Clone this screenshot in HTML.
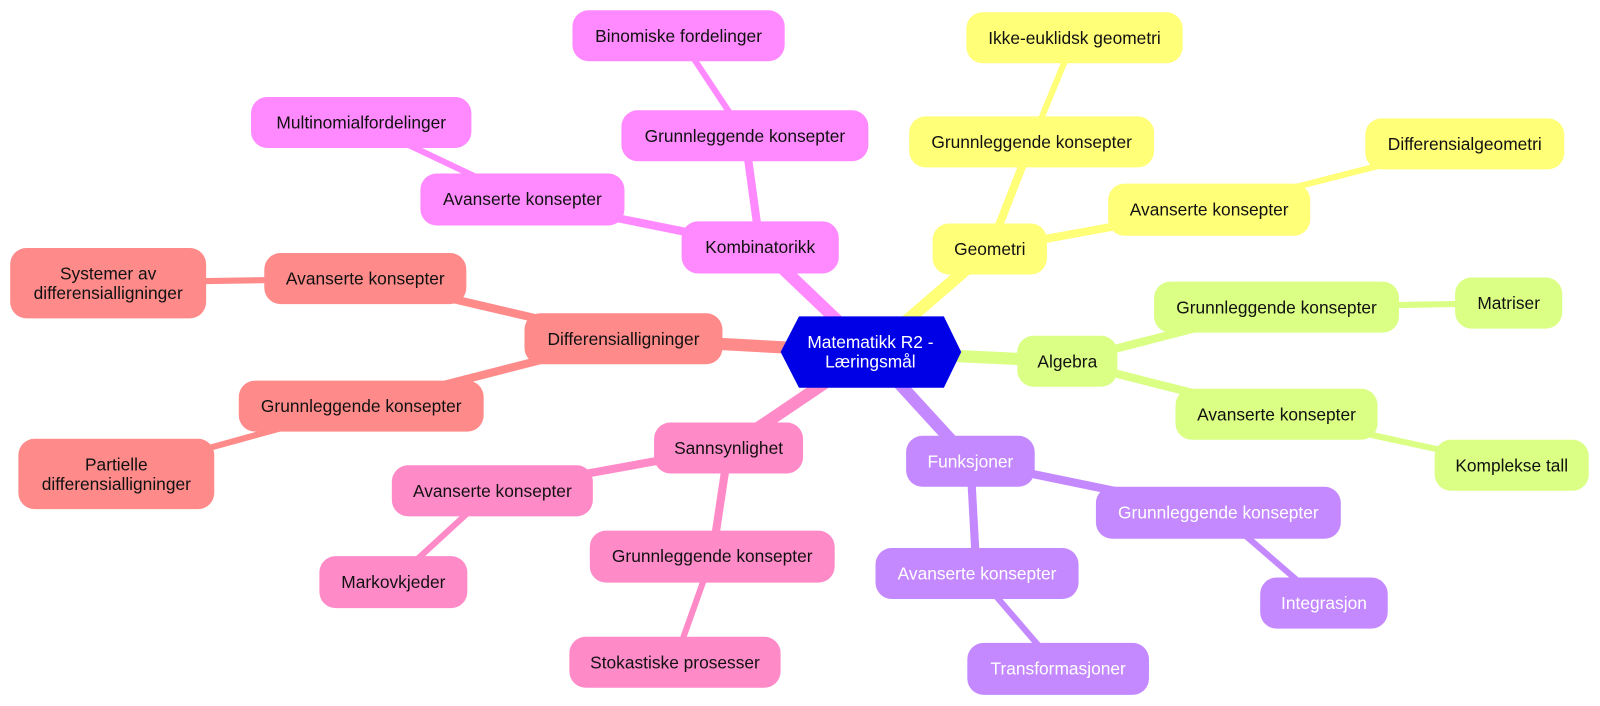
<!DOCTYPE html>
<html><head><meta charset="utf-8"><style>
html,body{margin:0;padding:0;background:#fff;width:1600px;height:706px;overflow:hidden}
#c{position:absolute;left:0;top:0;width:1568px;height:692px;transform:scale(1.0204);transform-origin:0 0;font-family:"Liberation Sans",sans-serif;font-size:17px}
.n{position:absolute;display:flex;align-items:center;justify-content:center;text-align:center;border-radius:16px;color:#111;line-height:19px;box-sizing:border-box;white-space:nowrap}
.y{background:#ffff78}.g{background:#daff84}.p{background:#c589ff;color:#fff}.m{background:#ff8aff}.k{background:#ff8ac8}.s{background:#ff8a8a}
svg{position:absolute;left:0;top:0}
</style></head><body><div id="c">
<svg width="1568" height="692" stroke-linecap="round">
<g stroke-width="12">
<line x1="853" y1="345" x2="745" y2="242" stroke="#ff8aff"/>
<line x1="853" y1="345" x2="970" y2="244" stroke="#ffff78"/>
<line x1="853" y1="345" x2="1046" y2="354" stroke="#daff84"/>
<line x1="853" y1="345" x2="951" y2="452" stroke="#c589ff"/>
<line x1="853" y1="345" x2="714" y2="439" stroke="#ff8ac8"/>
<line x1="853" y1="345" x2="611" y2="332" stroke="#ff8a8a"/>
</g>
<g stroke-width="8">
<line x1="745" y1="242" x2="730" y2="133" stroke="#ff8aff"/>
<line x1="745" y1="242" x2="512" y2="195" stroke="#ff8aff"/>
<line x1="970" y1="244" x2="1011" y2="139" stroke="#ffff78"/>
<line x1="970" y1="244" x2="1185" y2="205" stroke="#ffff78"/>
<line x1="1046" y1="354" x2="1251" y2="301" stroke="#daff84"/>
<line x1="1046" y1="354" x2="1251" y2="406" stroke="#daff84"/>
<line x1="951" y1="452" x2="1194" y2="502" stroke="#c589ff"/>
<line x1="951" y1="452" x2="957" y2="562" stroke="#c589ff"/>
<line x1="714" y1="439" x2="482" y2="481" stroke="#ff8ac8"/>
<line x1="714" y1="439" x2="698" y2="545" stroke="#ff8ac8"/>
<line x1="611" y1="332" x2="358" y2="273" stroke="#ff8a8a"/>
<line x1="611" y1="332" x2="354" y2="398" stroke="#ff8a8a"/>
</g>
<g stroke-width="6">
<line x1="730" y1="133" x2="665" y2="35" stroke="#ff8aff"/>
<line x1="512" y1="195" x2="354" y2="120" stroke="#ff8aff"/>
<line x1="1011" y1="139" x2="1053" y2="37" stroke="#ffff78"/>
<line x1="1185" y1="205" x2="1435" y2="141" stroke="#ffff78"/>
<line x1="1251" y1="301" x2="1478" y2="297" stroke="#daff84"/>
<line x1="1251" y1="406" x2="1481" y2="456" stroke="#daff84"/>
<line x1="1194" y1="502" x2="1297" y2="591" stroke="#c589ff"/>
<line x1="957" y1="562" x2="1037" y2="655" stroke="#c589ff"/>
<line x1="482" y1="481" x2="385" y2="570" stroke="#ff8ac8"/>
<line x1="698" y1="545" x2="661" y2="649" stroke="#ff8ac8"/>
<line x1="358" y1="273" x2="106" y2="277" stroke="#ff8a8a"/>
<line x1="354" y1="398" x2="114" y2="464" stroke="#ff8a8a"/>
</g>
<polygon points="783,310 925,310 942,345 925,380 783,380 765,345" fill="#0000e6"/>
<text x="853" y="341" fill="#fff" font-family="Liberation Sans" font-size="17" text-anchor="middle">Matematikk R2 -</text>
<text x="853" y="360" fill="#fff" font-family="Liberation Sans" font-size="17" text-anchor="middle">Læringsmål</text>
</svg>
<div class="n m" style="left:668px;top:217px;width:154px;height:51px">Kombinatorikk</div>
<div class="n m" style="left:609px;top:108px;width:242px;height:50px">Grunnleggende konsepter</div>
<div class="n m" style="left:561px;top:10px;width:208px;height:50px">Binomiske fordelinger</div>
<div class="n m" style="left:412px;top:170px;width:200px;height:51px">Avanserte konsepter</div>
<div class="n m" style="left:246px;top:95px;width:216px;height:50px">Multinomialfordelinger</div>
<div class="n y" style="left:914px;top:219px;width:112px;height:50px">Geometri</div>
<div class="n y" style="left:891px;top:114px;width:240px;height:50px">Grunnleggende konsepter</div>
<div class="n y" style="left:947px;top:12px;width:212px;height:50px">Ikke-euklidsk geometri</div>
<div class="n y" style="left:1086px;top:180px;width:198px;height:51px">Avanserte konsepter</div>
<div class="n y" style="left:1338px;top:116px;width:195px;height:50px">Differensialgeometri</div>
<div class="n g" style="left:997px;top:329px;width:98px;height:50px">Algebra</div>
<div class="n g" style="left:1131px;top:276px;width:240px;height:50px">Grunnleggende konsepter</div>
<div class="n g" style="left:1426px;top:272px;width:105px;height:50px">Matriser</div>
<div class="n g" style="left:1152px;top:381px;width:198px;height:50px">Avanserte konsepter</div>
<div class="n g" style="left:1406px;top:431px;width:151px;height:50px">Komplekse tall</div>
<div class="n p" style="left:888px;top:427px;width:126px;height:50px">Funksjoner</div>
<div class="n p" style="left:1074px;top:477px;width:240px;height:51px">Grunnleggende konsepter</div>
<div class="n p" style="left:1235px;top:566px;width:125px;height:50px">Integrasjon</div>
<div class="n p" style="left:858px;top:537px;width:199px;height:50px">Avanserte konsepter</div>
<div class="n p" style="left:948px;top:630px;width:178px;height:51px">Transformasjoner</div>
<div class="n k" style="left:641px;top:414px;width:146px;height:50px">Sannsynlighet</div>
<div class="n k" style="left:384px;top:456px;width:197px;height:50px">Avanserte konsepter</div>
<div class="n k" style="left:313px;top:545px;width:145px;height:51px">Markovkjeder</div>
<div class="n k" style="left:578px;top:520px;width:240px;height:51px">Grunnleggende konsepter</div>
<div class="n k" style="left:558px;top:624px;width:207px;height:50px">Stokastiske prosesser</div>
<div class="n s" style="left:514px;top:307px;width:194px;height:50px">Differensialligninger</div>
<div class="n s" style="left:259px;top:248px;width:198px;height:50px">Avanserte konsepter</div>
<div class="n s" style="left:10px;top:243px;width:192px;height:69px">Systemer av<br>differensialligninger</div>
<div class="n s" style="left:234px;top:373px;width:240px;height:50px">Grunnleggende konsepter</div>
<div class="n s" style="left:18px;top:430px;width:192px;height:69px">Partielle<br>differensialligninger</div>
</div></body></html>
